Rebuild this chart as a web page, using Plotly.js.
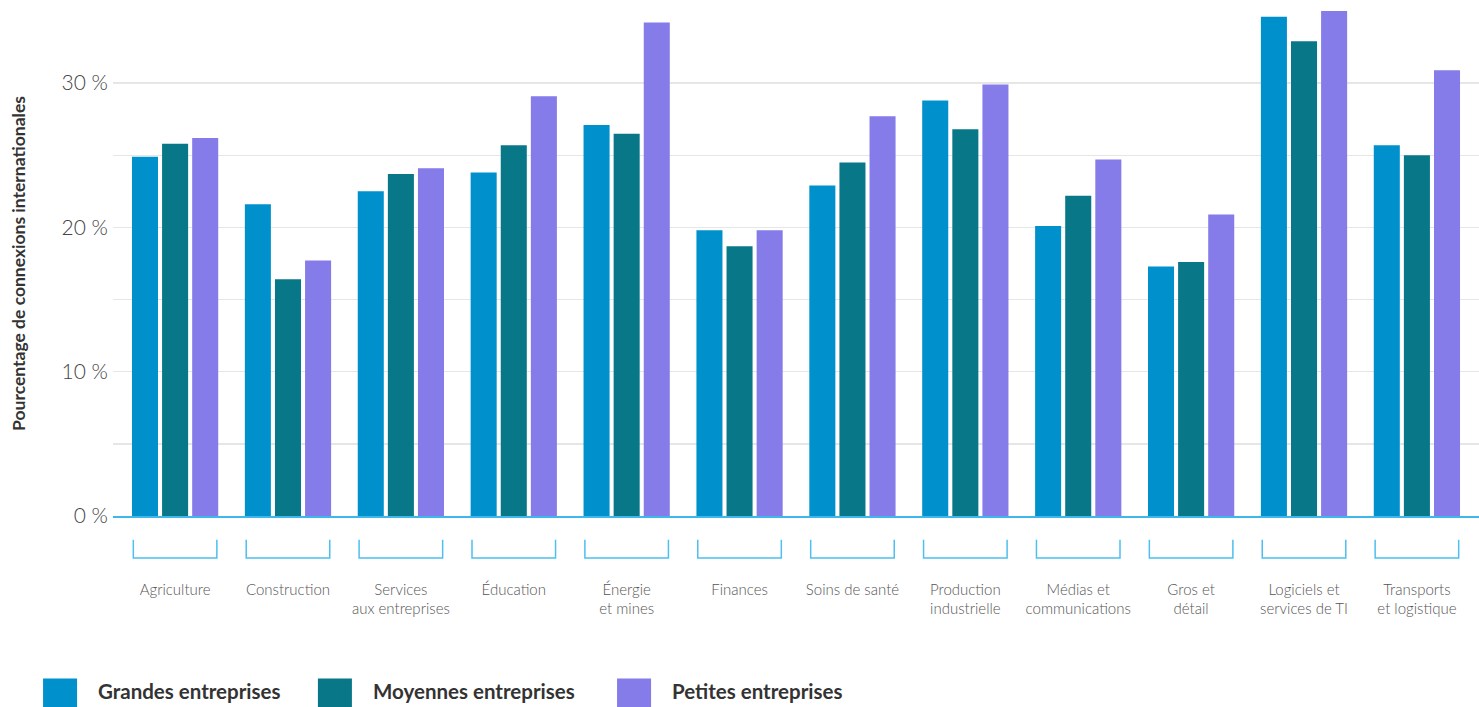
<!DOCTYPE html>
<html>
<head>
<meta charset="utf-8">
<script src="https://cdn.plot.ly/plotly-3.0.1.min.js"></script>
<style>html,body{margin:0;padding:0;background:#fff;}#chart{width:1479px;height:707px;}</style>
</head>
<body>
<div id="chart"></div>
<script>
const categories = ["Agriculture","Construction","Services<br>aux entreprises","Éducation","Énergie<br>et mines","Finances","Soins de santé","Production<br>industrielle","Médias et<br>communications","Gros et<br>détail","Logiciels et<br>services de TI","Transports<br>et logistique"];
const seriesNames = ["Grandes entreprises","Moyennes entreprises","Petites entreprises"];
const grandes  = [24.9, 21.6, 22.5, 23.8, 27.1, 19.8, 22.9, 28.8, 20.1, 17.3, 34.6, 25.7];
const moyennes = [25.8, 16.4, 23.7, 25.7, 26.5, 18.7, 24.5, 26.8, 22.2, 17.6, 32.9, 25.0];
const petites  = [26.2, 17.7, 24.1, 29.1, 34.2, 19.8, 27.7, 29.9, 24.7, 20.9, 35.0, 30.9];
const yTickVals = [0, 10, 20, 30];
const yTickText = ["0 %", "10 %", "20 %", "30 %"];
const yTitle = "Pourcentage de connexions internationales";

const colors = ["#0091CC", "#087787", "#857BE9"];
const values = [grandes, moyennes, petites];
const idx = categories.map((_, i) => i);

const traces = values.map((v, k) => ({
  type: "bar", name: seriesNames[k], x: idx, y: v,
  marker: {color: colors[k]}, hoverinfo: "y", showlegend: false
}));

const bracketColor = "#4dbff0";
const shapes = [];
const annotations = [];
idx.forEach(i => {
  const l = i - 0.37, r = i + 0.37, yt = -0.047, yb = -0.083;
  shapes.push({type:"path", xref:"x", yref:"paper",
    path:`M ${l},${yt} L ${l},${yb} L ${r},${yb} L ${r},${yt}`,
    line:{color:bracketColor, width:1.5}});
});
// legend (custom, large swatches)
const legX = [-0.0512, 0.1500, 0.3690];
seriesNames.forEach((n, k) => {
  shapes.push({type:"rect", xref:"paper", yref:"paper",
    x0: legX[k], x1: legX[k] + 0.0249, y0: -0.378, y1: -0.322,
    fillcolor: colors[k], line:{width:0}});
  annotations.push({xref:"paper", yref:"paper", x: legX[k] + 0.0388, y: -0.346,
    xanchor:"left", yanchor:"middle", showarrow:false, text: n,
    font:{family:"Lato, sans-serif", size:20.5, weight:700, color:"#333"}});
});

const layout = {
  width: 1479, height: 707,
  margin: {l:113, r:0, t:11, b:191},
  paper_bgcolor:"#fff", plot_bgcolor:"#fff",
  barmode:"group", bargap:0.2, bargroupgap:0.135,
  font:{family:"Lato, sans-serif"},
  xaxis: {
    range:[-0.55, 11.55], tickmode:"array", tickvals: idx, ticktext: categories,
    showgrid:false, zeroline:false, showline:true, linecolor:"#3db7ec", linewidth:1.5,
    ticks:"", ticklabelstandoff: 59,
    tickfont:{family:"Lato, sans-serif", size:15, weight:300, color:"#555"}
  },
  yaxis: {
    range:[0, 35], tickmode:"array", tickvals: yTickVals, ticktext: yTickText,
    showgrid:true, gridcolor:"#e6e6e6", gridwidth:1.5, zeroline:false,
    minor:{tick0:0, dtick:5, showgrid:true, gridcolor:"#e6e6e6", gridwidth:1.5},
    ticks:"", ticklabelstandoff: 4,
    tickfont:{family:"Lato, sans-serif", size:21, weight:300, color:"#444"},
    title:{text: yTitle, standoff: 31, font:{family:"Lato, sans-serif", size:17.5, weight:700, color:"#333"}}
  },
  shapes: shapes, annotations: annotations, showlegend:false
};
Plotly.newPlot("chart", traces, layout, {displayModeBar:false, staticPlot:true});
</script>
</body>
</html>
